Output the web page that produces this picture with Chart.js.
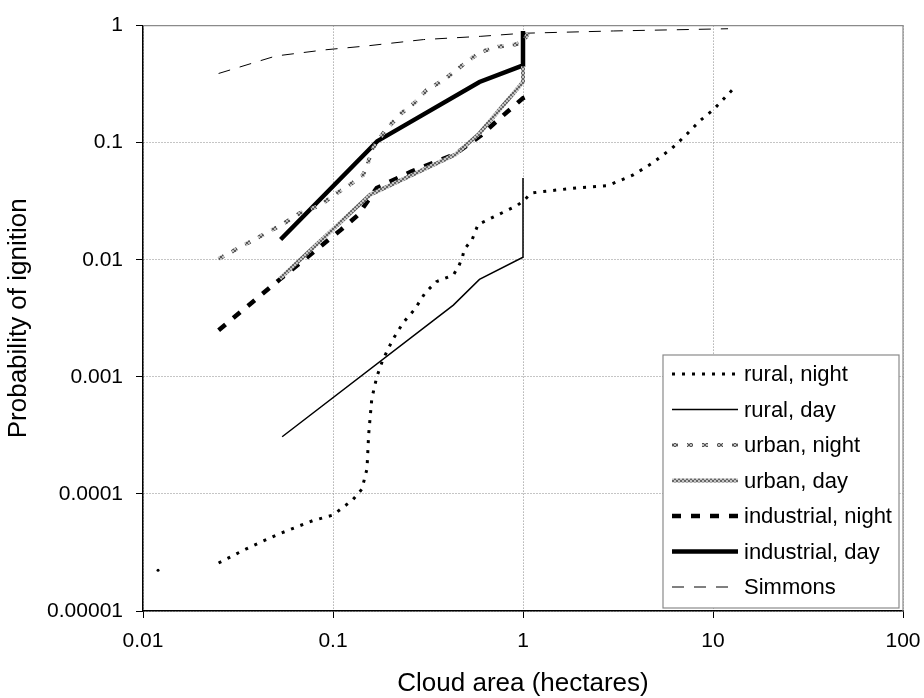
<!DOCTYPE html>
<html>
<head>
<meta charset="utf-8">
<script src="https://cdn.jsdelivr.net/npm/chart.js@4/dist/chart.umd.min.js"></script>
<style>
  html, body { margin: 0; padding: 0; background: #fff; }
  #wrap { width: 924px; height: 698px; }
</style>
</head>
<body>
<div id="wrap"><canvas id="myChart" width="924" height="698"></canvas></div>
<script>
// axis ticks
var xTicks = [0.01, 0.1, 1, 10, 100];
var xTickLabels = ['0.01', '0.1', '1', '10', '100'];
var yTicks = [0.00001, 0.0001, 0.001, 0.01, 0.1, 1];
var yTickLabels = ['0.00001', '0.0001', '0.001', '0.01', '0.1', '1'];

// series (x = cloud area in ha, y = probability)
var ruralNightX = [0.012, 0.018, 0.025, 0.035, 0.051, 0.078, 0.1, 0.127, 0.142, 0.151, 0.154, 0.16, 0.17, 0.183, 0.207, 0.234, 0.27, 0.305, 0.35, 0.43, 0.46, 0.48, 0.49, 0.54, 0.58, 0.73, 0.93, 1.02, 1.1, 1.22, 1.9, 2.8, 3.8, 4.8, 6.1, 7.2, 8.5, 10, 12.7];
var ruralNightY = [0.0000223, null, 0.0000257, 0.000034, 0.000045, 0.000059, 0.000066, 0.000089, 0.00011, 0.000164, 0.00032, 0.00065, 0.001, 0.0014, 0.0021, 0.0029, 0.0038, 0.0052, 0.0065, 0.0074, 0.0089, 0.0105, 0.0122, 0.0149, 0.02, 0.024, 0.029, 0.0325, 0.037, 0.038, 0.041, 0.043, 0.053, 0.067, 0.09, 0.116, 0.153, 0.19, 0.285];

var ruralDayX = [0.054, 0.43, 0.59, 1, 1];
var ruralDayY = [0.000308, 0.0041, 0.0068, 0.0105, 0.05];

var urbanNightX = [0.025, 0.054, 0.067, 0.085, 0.102, 0.123, 0.144, 0.152, 0.16, 0.19, 0.23, 0.27, 0.31, 0.39, 0.48, 0.59, 0.74, 0.91, 1.0, 1.08];
var urbanNightY = [0.0102, 0.02, 0.025, 0.029, 0.036, 0.044, 0.053, 0.065, 0.087, 0.13, 0.18, 0.22, 0.28, 0.35, 0.46, 0.59, 0.66, 0.69, 0.72, 0.9];

var urbanDayX = [0.0525, 0.157, 0.44, 0.59, 1, 1];
var urbanDayY = [0.0069, 0.036, 0.079, 0.12, 0.33, 0.45];

var industrialNightX = [0.025, 0.0525, 0.11, 0.135, 0.17, 0.26, 0.44, 0.6, 0.75, 1.0, 1.03];
var industrialNightY = [0.0025, 0.0068, 0.018, 0.024, 0.041, 0.057, 0.08, 0.115, 0.16, 0.24, 0.245];

var industrialDayX = [0.053, 0.171, 0.59, 1, 1];
var industrialDayY = [0.0149, 0.103, 0.33, 0.457, 0.9];

var simmonsX = [0.025, 0.05, 0.09, 0.15, 0.3, 0.6, 1, 3, 12];
var simmonsY = [0.39, 0.55, 0.62, 0.67, 0.76, 0.81, 0.86, 0.9, 0.94];

function pts(xs, ys) {
  return xs.map(function (x, i) { return { x: x, y: ys[i] }; });
}

// grey checker texture, stands in for the scanned hatched lines
function hatch(dark, light) {
  var p = document.createElement('canvas');
  p.width = 4; p.height = 4;
  var g = p.getContext('2d');
  g.fillStyle = light; g.fillRect(0, 0, 4, 4);
  g.fillStyle = dark; g.fillRect(0, 0, 2, 2); g.fillRect(2, 2, 2, 2);
  return g.createPattern(p, 'repeat');
}

var FONT = "'Liberation Sans', Arial, sans-serif";

// little box legend drawn inside the plot, like the original
var boxLegend = {
  id: 'boxLegend',
  afterDraw: function (chart) {
    var ctx = chart.ctx, a = chart.chartArea;
    ctx.save();
    // plot frame (top and right)
    ctx.strokeStyle = '#8a8a8a';
    ctx.lineWidth = 1.2;
    ctx.beginPath();
    ctx.moveTo(a.left, a.top);
    ctx.lineTo(a.right, a.top);
    ctx.lineTo(a.right, a.bottom);
    ctx.stroke();

    var left = a.right - 240, right = a.right - 4, top = 355, bottom = a.bottom - 3;
    ctx.fillStyle = '#fff';
    ctx.fillRect(left, top, right - left, bottom - top);
    ctx.strokeStyle = '#8a8a8a';
    ctx.lineWidth = 1.2;
    ctx.strokeRect(left, top, right - left, bottom - top);

    ctx.font = '22px ' + FONT;
    ctx.textBaseline = 'middle';
    chart.data.datasets.forEach(function (ds, i) {
      var y = 374 + i * 35.5;
      ctx.setLineDash(ds.borderDash || []);
      ctx.strokeStyle = ds.borderColor;
      ctx.lineWidth = ds.borderWidth;
      ctx.beginPath();
      ctx.moveTo(left + 9, y);
      ctx.lineTo(left + 75, y);
      ctx.stroke();
      ctx.setLineDash([]);
      ctx.fillStyle = '#000';
      ctx.fillText(ds.label, left + 81, y + 1);
    });
    ctx.restore();
  }
};

var data = {
  datasets: [{
    label: 'rural, night',
    data: pts(ruralNightX, ruralNightY),
    borderColor: '#000',
    borderWidth: 3,
    borderDash: [3, 7],
    pointRadius: function (c) { return c.dataIndex === 0 ? 1.5 : 0; },
    pointBackgroundColor: '#000',
    pointBorderWidth: 0
  }, {
    label: 'rural, day',
    data: pts(ruralDayX, ruralDayY),
    borderColor: '#000',
    borderWidth: 1.5,
    pointRadius: 0
  }, {
    label: 'urban, night',
    data: pts(urbanNightX, urbanNightY),
    borderColor: hatch('#555', '#bdbdbd'),
    borderWidth: 4,
    borderDash: [6, 9],
    pointRadius: 0
  }, {
    label: 'urban, day',
    data: pts(urbanDayX, urbanDayY),
    borderColor: hatch('#666', '#c4c4c4'),
    borderWidth: 4,
    pointRadius: 0
  }, {
    label: 'industrial, night',
    data: pts(industrialNightX, industrialNightY),
    borderColor: '#000',
    borderWidth: 4.5,
    borderDash: [9, 10],
    pointRadius: 0
  }, {
    label: 'industrial, day',
    data: pts(industrialDayX, industrialDayY),
    borderColor: '#000',
    borderWidth: 4.5,
    pointRadius: 0
  }, {
    label: 'Simmons',
    data: pts(simmonsX, simmonsY),
    borderColor: '#000',
    borderWidth: 1,
    borderDash: [12, 10],
    pointRadius: 0
  }]
};

var config = {
  type: 'line',
  data: data,
  options: {
    responsive: false,
    animation: false,
    layout: { padding: { top: 23, right: 21, left: 0, bottom: 0 } },
    plugins: { legend: { display: false }, tooltip: { enabled: false } },
    scales: {
      x: {
        type: 'logarithmic',
        min: 0.01,
        max: 100,
        afterBuildTicks: function (axis) { axis.ticks = xTicks.map(function (v) { return { value: v }; }); },
        afterFit: function (axis) {
          axis.height = 87;
          axis.paddingLeft = 0;
          axis.paddingRight = 0;
        },
        ticks: {
          autoSkip: false,
          maxRotation: 0,
          padding: 11,
          color: '#000',
          font: { family: FONT, size: 21 },
          callback: function (v, i) { return xTickLabels[i]; }
        },
        grid: { color: '#8a8a8a', lineWidth: 1, tickLength: 7, tickColor: '#000' },
        border: { display: true, color: '#000', width: 1.5, dash: [1, 2] },
        title: {
          display: true,
          text: 'Cloud area (hectares)',
          color: '#000',
          font: { family: FONT, size: 26, lineHeight: 1 },
          padding: { top: 0, bottom: 1 }
        }
      },
      y: {
        type: 'logarithmic',
        min: 0.00001,
        max: 1,
        afterBuildTicks: function (axis) { axis.ticks = yTicks.map(function (v) { return { value: v }; }); },
        afterFit: function (axis) { axis.width = 143; },
        ticks: {
          autoSkip: false,
          padding: 13,
          color: '#000',
          font: { family: FONT, size: 21 },
          callback: function (v, i) { return yTickLabels[i]; }
        },
        grid: { color: '#8a8a8a', lineWidth: 1, tickLength: 7, tickColor: '#000' },
        border: { display: true, color: '#000', width: 1.5, dash: [1, 2] },
        title: {
          display: true,
          text: 'Probability of ignition',
          color: '#000',
          font: { family: FONT, size: 26, lineHeight: 1.2 },
          padding: { top: 3, bottom: 0 }
        }
      }
    }
  },
  plugins: [boxLegend]
};

var canvas = document.getElementById('myChart');
var chart = new Chart(canvas, config);
</script>
</body>
</html>
